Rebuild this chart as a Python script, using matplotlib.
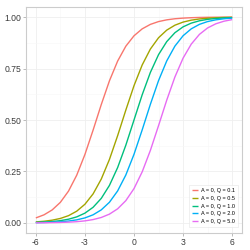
import matplotlib
matplotlib.use("Agg")
import matplotlib.pyplot as plt
import numpy as np

x = [-6, -5.5, -5, -4.5, -4, -3.5, -3, -2.5, -2, -1.5, -1, -0.5, 0,
     0.5, 1, 1.5, 2, 2.5, 3, 3.5, 4, 4.5, 5, 5.5, 6]

q01 = [0.0242, 0.0393, 0.0631, 0.1000, 0.1548, 0.2319, 0.3324, 0.4508, 0.5751,
       0.6905, 0.7863, 0.8585, 0.9091, 0.9428, 0.9645, 0.9782, 0.9866, 0.9919,
       0.9950, 0.9970, 0.9982, 0.9989, 0.9993, 0.9996, 0.9998]
q05 = [0.0049, 0.0081, 0.0133, 0.0217, 0.0353, 0.0570, 0.0906, 0.1410, 0.2130,
       0.3086, 0.4239, 0.5481, 0.6667, 0.7673, 0.8446, 0.8996, 0.9366, 0.9606,
       0.9757, 0.9851, 0.9909, 0.9945, 0.9966, 0.9980, 0.9988]
q10 = [0.0025, 0.0041, 0.0067, 0.0110, 0.0180, 0.0293, 0.0474, 0.0759, 0.1192,
       0.1824, 0.2689, 0.3775, 0.5000, 0.6225, 0.7311, 0.8176, 0.8808, 0.9241,
       0.9526, 0.9707, 0.9820, 0.9890, 0.9933, 0.9959, 0.9975]
q20 = [0.0012, 0.0020, 0.0034, 0.0055, 0.0091, 0.0149, 0.0243, 0.0394, 0.0634,
       0.1004, 0.1554, 0.2327, 0.3333, 0.4519, 0.5761, 0.6914, 0.7870, 0.8590,
       0.9094, 0.9430, 0.9647, 0.9783, 0.9867, 0.9919, 0.9951]
q50 = [0.0005, 0.0008, 0.0014, 0.0022, 0.0037, 0.0060, 0.0099, 0.0162, 0.0264,
       0.0427, 0.0685, 0.1082, 0.1667, 0.2480, 0.3522, 0.4727, 0.5964, 0.7090,
       0.8007, 0.8688, 0.9161, 0.9474, 0.9674, 0.9800, 0.9878]

labels = ["A = 0, Q = 0.1", "A = 0, Q = 0.5", "A = 0, Q = 1.0",
          "A = 0, Q = 2.0", "A = 0, Q = 5.0"]
series = [q01, q05, q10, q20, q50]
colors = ["#F8766D", "#A3A500", "#00BF7D", "#00B0F6", "#E76BF3"]

xticks = [-6, -3, 0, 3, 6]
yticks = [0.00, 0.25, 0.50, 0.75, 1.00]
yticklabels = ["0.00", "0.25", "0.50", "0.75", "1.00"]

plt.rcParams['font.family'] = ['Liberation Sans', 'DejaVu Sans']

fig = plt.figure(figsize=(2.5, 2.5), dpi=100)
ax = fig.add_axes([26/250, 17/250, 216/250, 226/250])

for ys, c, lab in zip(series, colors, labels):
    ax.plot(x, ys, color=c, lw=1.0, label=lab, solid_capstyle='butt')

ax.set_xlim(-6.6, 6.6)
ax.set_ylim(-0.049, 1.049)
ax.set_xticks(xticks)
ax.set_xticklabels([str(t) for t in xticks])
ax.set_yticks(yticks)
ax.set_yticklabels(yticklabels)
ax.set_xticks([-4.5, -1.5, 1.5, 4.5], minor=True)
ax.set_yticks([0.125, 0.375, 0.625, 0.875], minor=True)
ax.grid(True, which='major', color='#EFEFEF', lw=0.6)
ax.grid(True, which='minor', color='#F7F7F7', lw=0.4)
ax.set_axisbelow(True)
ax.tick_params(which='minor', length=0)
ax.tick_params(which='major', length=2, width=0.6, color='#B0B0B0',
               labelsize=6.2, labelcolor='#3A3A3A', pad=1.5)
for s in ax.spines.values():
    s.set_color('#CCCCCC')
    s.set_linewidth(0.8)

leg = ax.legend(loc='lower right', bbox_to_anchor=(0.982, 0.027),
                borderaxespad=0, fontsize=4, frameon=True, fancybox=False,
                handlelength=1.1, handletextpad=0.6, labelspacing=0.5,
                borderpad=0.5)
leg.get_frame().set_edgecolor('#E5E5E5')
leg.get_frame().set_linewidth(0.5)

fig.savefig("out.png", dpi=100)
